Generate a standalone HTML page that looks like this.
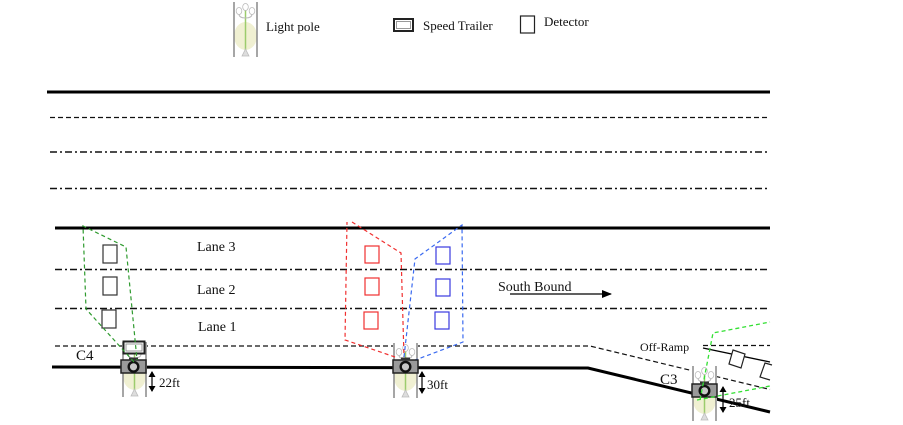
<!DOCTYPE html>
<html><head><meta charset="utf-8"><style>
html,body{margin:0;padding:0;background:#fff;}
svg{display:block;}
text{font-family:"Liberation Serif",serif;fill:#111;}
</style></head><body>
<svg width="903" height="425" viewBox="0 0 903 425" xmlns="http://www.w3.org/2000/svg">
<defs>
<g id="pole">
  <rect x="0" y="0" width="25" height="57" fill="#fff"/>
  <ellipse cx="12.5" cy="36" rx="11.5" ry="14" fill="#f0f0d2"/>
  <line x1="1" y1="2" x2="1" y2="57" stroke="#888" stroke-width="1.5"/>
  <line x1="24" y1="2" x2="24" y2="57" stroke="#888" stroke-width="1.5"/>
  <line x1="12.5" y1="8" x2="12.5" y2="50" stroke="#9ccc6c" stroke-width="1.5"/>
  <path d="M12.5 18 Q6 18 6 14 M12.5 18 Q19 18 19 14" fill="none" stroke="#bbb" stroke-width="1"/>
  <ellipse cx="6" cy="11" rx="2.8" ry="3.5" fill="#fff" stroke="#bbb" stroke-width="0.8"/>
  <ellipse cx="12.5" cy="7" rx="2.8" ry="3.5" fill="#fff" stroke="#bbb" stroke-width="0.8"/>
  <ellipse cx="19" cy="11" rx="2.8" ry="3.5" fill="#fff" stroke="#bbb" stroke-width="0.8"/>
  <path d="M9 56 L12.5 49 L16 56 Z" fill="#ddd" stroke="#bbb" stroke-width="0.8"/>
</g>
<g id="cam">
  <rect x="0" y="0" width="25" height="13" fill="#9a9a9a" stroke="#222" stroke-width="1.5"/>
  <rect x="8" y="-2.5" width="9" height="3" fill="#333"/>
  <circle cx="12.5" cy="6.8" r="4.8" fill="#c8c8c8" stroke="#111" stroke-width="2.4"/>
</g>
<marker id="ah" markerWidth="10" markerHeight="8" refX="9" refY="4" orient="auto" markerUnits="userSpaceOnUse">
  <path d="M0 0 L10 4 L0 8 Z" fill="#000"/>
</marker>
<marker id="sh" markerWidth="6" markerHeight="7" refX="5" refY="3.5" orient="auto-start-reverse" markerUnits="userSpaceOnUse">
  <path d="M0 0 L6 3.5 L0 7 Z" fill="#000"/>
</marker>
</defs>

<!-- Legend -->
<use href="#pole" x="233" y="0"/>
<text x="266" y="31" font-size="13">Light pole</text>
<rect x="394" y="19" width="19" height="12" fill="#fff" stroke="#222" stroke-width="2"/>
<rect x="396.5" y="21.5" width="14" height="7" fill="none" stroke="#999" stroke-width="1"/>
<text x="423" y="30" font-size="13">Speed Trailer</text>
<rect x="520.5" y="16" width="14" height="17" fill="#fff" stroke="#222" stroke-width="1.2"/>
<text x="544" y="26" font-size="13">Detector</text>

<!-- Northbound section -->
<line x1="47" y1="92" x2="770" y2="92" stroke="#000" stroke-width="3"/>
<line x1="50" y1="117.5" x2="770" y2="117.5" stroke="#111" stroke-width="1.2" stroke-dasharray="5 3"/>
<line x1="50" y1="152" x2="770" y2="152" stroke="#111" stroke-width="1.5" stroke-dasharray="7 3 2 3"/>
<line x1="50" y1="188.5" x2="770" y2="188.5" stroke="#111" stroke-width="1.5" stroke-dasharray="7 3 2 3"/>

<!-- Southbound section -->
<line x1="55" y1="228" x2="770" y2="228" stroke="#000" stroke-width="3"/>
<line x1="55" y1="269.5" x2="770" y2="269.5" stroke="#111" stroke-width="1.5" stroke-dasharray="7 3 2 3"/>
<line x1="55" y1="308.5" x2="770" y2="308.5" stroke="#111" stroke-width="1.5" stroke-dasharray="7 3 2 3"/>
<polyline points="55,346 590,346 770,389.5" fill="none" stroke="#111" stroke-width="1.2" stroke-dasharray="5 3"/>
<polyline points="52,367 588,368 770,412" fill="none" stroke="#000" stroke-width="3"/>
<!-- off ramp -->
<line x1="703" y1="345.5" x2="770" y2="345.5" stroke="#111" stroke-width="1.2" stroke-dasharray="5 3"/>
<line x1="703" y1="348" x2="770" y2="362" stroke="#000" stroke-width="1.3"/>
<text x="640" y="351" font-size="12">Off-Ramp</text>
<polygon points="733,350 745,354 741,368 729,364" fill="#fff" stroke="#222" stroke-width="1.2"/>
<polyline points="772,365 765,363 760,377 770,380" fill="none" stroke="#222" stroke-width="1.2"/>

<!-- Lane labels -->
<text x="197" y="251" font-size="14">Lane 3</text>
<text x="197" y="294" font-size="14">Lane 2</text>
<text x="198" y="331" font-size="14">Lane 1</text>

<!-- South bound arrow -->
<text x="498" y="291" font-size="14">South Bound</text>
<line x1="510" y1="294" x2="611" y2="294" stroke="#000" stroke-width="1.3" marker-end="url(#ah)"/>

<!-- C4 detectors -->
<rect x="103" y="245" width="14" height="18" fill="none" stroke="#333" stroke-width="1.2"/>
<rect x="103" y="277" width="14" height="18" fill="none" stroke="#333" stroke-width="1.2"/>
<rect x="102" y="310" width="14" height="18" fill="none" stroke="#333" stroke-width="1.2"/>

<!-- C4 pole/camera -->
<use href="#pole" x="122" y="340"/>
<rect x="123.5" y="341.5" width="21" height="12" fill="#fff" stroke="#222" stroke-width="2"/>
<rect x="126" y="344" width="16" height="7" fill="none" stroke="#999" stroke-width="1"/>
<use href="#cam" x="121" y="360"/>
<polyline points="134,362 86,309 83,226 126,247 137,360" fill="none" stroke="#2e9a2e" stroke-width="1.2" stroke-dasharray="4 3"/>
<text x="76" y="360" font-size="15">C4</text>
<line x1="152" y1="372" x2="152" y2="391" stroke="#000" stroke-width="1.2" marker-start="url(#sh)" marker-end="url(#sh)"/>
<text x="159" y="387" font-size="13">22ft</text>

<!-- middle detectors -->
<rect x="365" y="246" width="14" height="17" fill="none" stroke="#f03030" stroke-width="1.2"/>
<rect x="365" y="278" width="14" height="17" fill="none" stroke="#f03030" stroke-width="1.2"/>
<rect x="364" y="312" width="14" height="17" fill="none" stroke="#f03030" stroke-width="1.2"/>
<rect x="436" y="247" width="14" height="17" fill="none" stroke="#3a3ae0" stroke-width="1.2"/>
<rect x="436" y="279" width="14" height="17" fill="none" stroke="#3a3ae0" stroke-width="1.2"/>
<rect x="435" y="312" width="14" height="17" fill="none" stroke="#3a3ae0" stroke-width="1.2"/>

<!-- middle pole/camera -->
<use href="#pole" x="393" y="341"/>
<polyline points="395,357 345,340 347,222" fill="none" stroke="#f03030" stroke-width="1.2" stroke-dasharray="4 3"/>
<polyline points="352,222 401,253 404,357" fill="none" stroke="#f03030" stroke-width="1.2" stroke-dasharray="4 3"/>
<polyline points="404,357 415,259 462,225 463,342 410,362" fill="none" stroke="#3a6af0" stroke-width="1.2" stroke-dasharray="4 3"/>
<use href="#cam" x="393" y="360"/>
<line x1="422" y1="372" x2="422" y2="393" stroke="#000" stroke-width="1.2" marker-start="url(#sh)" marker-end="url(#sh)"/>
<text x="427" y="389" font-size="13">30ft</text>

<!-- C3 pole/camera -->
<use href="#pole" x="692" y="364"/>
<use href="#cam" x="692" y="384"/>
<polyline points="700,400 713,333 770,322" fill="none" stroke="#33e033" stroke-width="1.3" stroke-dasharray="4 3"/>
<line x1="697" y1="400" x2="770" y2="386" stroke="#33e033" stroke-width="1.3" stroke-dasharray="4 3"/>
<text x="660" y="384" font-size="15">C3</text>
<line x1="723" y1="387" x2="723" y2="412" stroke="#000" stroke-width="1.2" marker-start="url(#sh)" marker-end="url(#sh)"/>
<text x="729" y="407" font-size="13">25ft</text>
</svg>
</body></html>
